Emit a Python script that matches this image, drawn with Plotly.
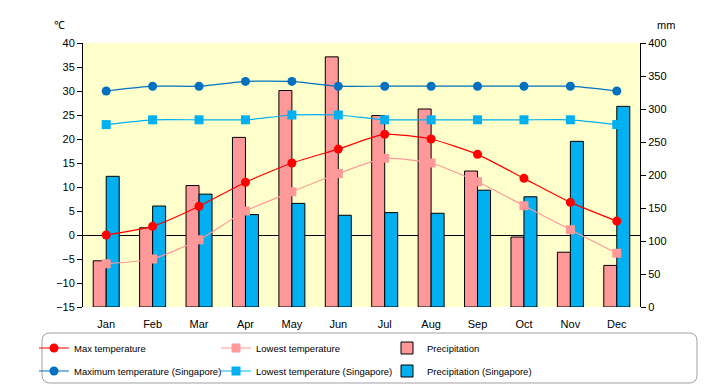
import plotly.graph_objects as go

months = ["Jan", "Feb", "Mar", "Apr", "May", "Jun", "Jul", "Aug", "Sep", "Oct", "Nov", "Dec"]
max_temp = [0.0, 1.8, 6.0, 11.0, 15.0, 17.9, 21.0, 20.0, 16.8, 11.8, 6.8, 2.9]
low_temp = [-6.0, -5.0, -1.0, 5.0, 9.0, 12.8, 16.0, 15.0, 11.1, 6.1, 1.1, -3.8]
precip = [70, 120, 184, 257, 328, 379, 290, 300, 206, 106, 83, 63]
sg_max = [30, 31, 31, 32, 32, 31, 31, 31, 31, 31, 31, 30]
sg_low = [23, 24, 24, 24, 25, 25, 24, 24, 24, 24, 24, 23]
sg_precip = [198, 153, 171, 140, 157, 139, 143, 142, 177, 167, 251, 304]

temp_ticks = list(range(-15, 41, 5))
mm_ticks = list(range(0, 401, 50))

fig = go.Figure()

fig.add_trace(go.Bar(x=months, y=precip, name="Precipitation", yaxis="y",
                     marker=dict(color="#FF9999", line=dict(color="black", width=1)),
                     legend="legend3"))
fig.add_trace(go.Bar(x=months, y=sg_precip, name="Precipitation (Singapore)", yaxis="y",
                     marker=dict(color="#00B0F0", line=dict(color="black", width=1)),
                     legend="legend6"))

fig.add_trace(go.Scatter(x=months, y=sg_max, name="Maximum temperature (Singapore)", yaxis="y2",
                         mode="lines+markers", line=dict(color="#0070C0", width=1.2, shape="spline", smoothing=0.5),
                         marker=dict(symbol="circle", size=9, color="#0070C0"),
                         legend="legend4"))
fig.add_trace(go.Scatter(x=months, y=sg_low, name="Lowest temperature (Singapore)", yaxis="y2",
                         mode="lines+markers", line=dict(color="#00B0F0", width=1.2, shape="spline", smoothing=0.5),
                         marker=dict(symbol="square", size=9, color="#00B0F0"),
                         legend="legend5"))
fig.add_trace(go.Scatter(x=months, y=low_temp, name="Lowest temperature", yaxis="y2",
                         mode="lines+markers", line=dict(color="#FF9999", width=1.2, shape="spline", smoothing=0.5),
                         marker=dict(symbol="square", size=9, color="#FF9999"),
                         legend="legend2"))
fig.add_trace(go.Scatter(x=months, y=max_temp, name="Max temperature", yaxis="y2",
                         mode="lines+markers", line=dict(color="#FF0000", width=1.2, shape="spline", smoothing=0.5),
                         marker=dict(symbol="circle", size=9, color="#FF0000"),
                         legend="legend"))

font = dict(family="Liberation Sans", size=11, color="black")
legend_font = dict(family="Liberation Sans", size=9.5, color="black")


def leg(text_x, row_y):
    # text_x: pixel where legend text starts; row_y: pixel of row centre
    return dict(orientation="v", xref="container", yref="container",
                x=(text_x - 40) / 720, y=(385 - row_y) / 385,
                xanchor="left", yanchor="middle", font=legend_font,
                bgcolor="rgba(0,0,0,0)", borderwidth=0)


fig.update_layout(
    width=720, height=385,
    margin=dict(l=83, r=80, t=43, b=78, autoexpand=False),
    paper_bgcolor="white",
    plot_bgcolor="#FFFFCC",
    font=font,
    barmode="group",
    bargap=0.44,
    bargroupgap=0,
    showlegend=True,
    xaxis=dict(range=[-0.5, 11.5], showline=False, ticks="outside", ticklen=7,
               tickcolor="rgba(0,0,0,0)", showgrid=False, tickfont=font, automargin=False),
    yaxis=dict(side="right", range=[0, 400], tickvals=mm_ticks, showgrid=False,
               showline=True, linecolor="black", linewidth=1, ticks="outside",
               ticklen=5, tickcolor="black", zeroline=False, tickfont=font, automargin=False),
    yaxis2=dict(side="left", overlaying="y", range=[-15, 40], tickvals=temp_ticks,
                showgrid=False, showline=True, linecolor="black", linewidth=1,
                ticks="outside", ticklen=5, tickcolor="black",
                zeroline=True, zerolinecolor="black", zerolinewidth=1, tickfont=font,
                automargin=False),
    legend=leg(74, 348),
    legend2=leg(256, 348),
    legend3=leg(427, 348),
    legend4=leg(74, 371),
    legend5=leg(256, 371),
    legend6=leg(427, 371),
    annotations=[
        dict(text="℃", xref="paper", yref="paper", x=(59 - 83) / 557, y=(307 - 25) / 264,
             xanchor="center", yanchor="middle", showarrow=False, font=font),
        dict(text="mm", xref="paper", yref="paper", x=(666 - 83) / 557, y=(307 - 25) / 264,
             xanchor="center", yanchor="middle", showarrow=False, font=font),
    ],
)

# rounded legend frame (paper coords: x0=83px, width 557px; y0=307px, height 264px)
def px_x(p):
    return (p - 83) / 557.0

def px_y(p):
    return (307 - p) / 264.0

x0, x1, y0, y1, r = 42, 697, 333, 383, 8
path = (f"M {px_x(x0 + r)},{px_y(y0)} L {px_x(x1 - r)},{px_y(y0)} "
        f"Q {px_x(x1)},{px_y(y0)} {px_x(x1)},{px_y(y0 + r)} "
        f"L {px_x(x1)},{px_y(y1 - r)} Q {px_x(x1)},{px_y(y1)} {px_x(x1 - r)},{px_y(y1)} "
        f"L {px_x(x0 + r)},{px_y(y1)} Q {px_x(x0)},{px_y(y1)} {px_x(x0)},{px_y(y1 - r)} "
        f"L {px_x(x0)},{px_y(y0 + r)} Q {px_x(x0)},{px_y(y0)} {px_x(x0 + r)},{px_y(y0)} Z")
fig.add_shape(type="path", path=path, xref="paper", yref="paper",
              line=dict(color="#A0A0A0", width=1), fillcolor="rgba(0,0,0,0)", layer="below")

fig.write_html("out.html", config={"displayModeBar": False},
               post_script="document.body.style.margin='0';document.body.style.overflow='hidden';")
